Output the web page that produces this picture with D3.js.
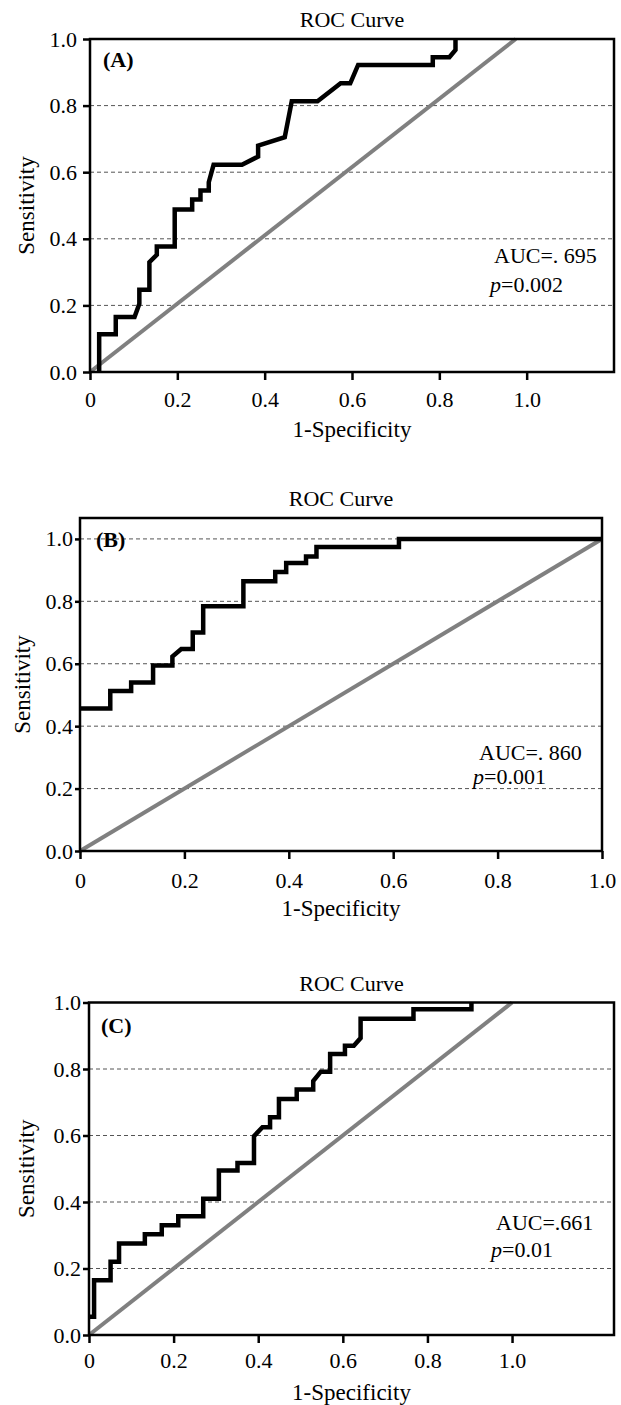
<!DOCTYPE html>
<html lang="en">
    <head>
        <meta charset="utf-8">
        <title>ROC Curves</title>
        <script src="https://d3js.org/d3.v7.min.js" charset="utf-8"></script>
    </head>
    <style>
        body { margin: 0; background: #fff; }
        text { font-family: "Liberation Serif", "Times New Roman", serif; fill: #000; }
        .grid line { stroke: #555; stroke-width: 1; stroke-dasharray: 4,3; }
        .frame { fill: none; stroke: #000; stroke-width: 2.5; }
        .tick line { stroke: #000; stroke-width: 2.5; }
        .roc { fill: none; stroke: #000; stroke-width: 4.5; stroke-linejoin: miter; }
        .ref { fill: none; stroke: #808080; stroke-width: 4; }
    </style>
    <body>
        <script>
            // values: [1-specificity, sensitivity]
            var rocA = [[0.021,0],[0.021,0.113],[0.059,0.113],[0.059,0.165],[0.102,0.165],[0.113,0.205],
                [0.113,0.247],[0.136,0.247],[0.136,0.33],[0.153,0.352],[0.153,0.377],[0.194,0.377],
                [0.194,0.488],[0.234,0.488],[0.234,0.518],[0.253,0.518],[0.253,0.545],[0.272,0.545],
                [0.272,0.57],[0.283,0.622],[0.348,0.622],[0.385,0.647],[0.385,0.68],[0.446,0.705],
                [0.462,0.813],[0.521,0.813],[0.574,0.867],[0.596,0.867],[0.614,0.922],[0.785,0.922],
                [0.785,0.945],[0.823,0.945],[0.837,0.967],[0.837,1.0]];
            var rocB = [[0,0.457],[0.058,0.457],[0.058,0.513],[0.098,0.513],[0.098,0.54],[0.14,0.54],
                [0.14,0.594],[0.177,0.594],[0.177,0.623],[0.194,0.647],[0.216,0.647],[0.216,0.70],
                [0.236,0.70],[0.236,0.784],[0.313,0.784],[0.313,0.864],[0.374,0.864],[0.374,0.894],
                [0.395,0.894],[0.395,0.923],[0.433,0.923],[0.433,0.944],[0.453,0.944],[0.453,0.974],
                [0.611,0.974],[0.611,1.0],[1.0,1.0]];
            var rocC = [[0,0.055],[0.012,0.055],[0.012,0.165],[0.051,0.165],[0.051,0.22],[0.071,0.22],
                [0.071,0.275],[0.132,0.275],[0.132,0.303],[0.172,0.303],[0.172,0.33],[0.211,0.33],
                [0.211,0.357],[0.27,0.357],[0.27,0.41],[0.307,0.41],[0.307,0.495],[0.351,0.495],
                [0.351,0.517],[0.39,0.517],[0.39,0.598],[0.41,0.625],[0.428,0.625],[0.428,0.655],
                [0.449,0.655],[0.449,0.71],[0.491,0.71],[0.491,0.738],[0.53,0.738],[0.53,0.764],
                [0.548,0.792],[0.57,0.792],[0.57,0.845],[0.605,0.845],[0.605,0.87],[0.626,0.87],
                [0.642,0.893],[0.642,0.951],[0.767,0.951],[0.767,0.98],[0.904,0.98],[0.904,1.0]];

            // reference (chance) lines
            var refA = [[0,0],[0.975,1]];
            var refB = [[0,0],[1,1]];
            var refC = [[0,0],[1,1]];

            var panelLabels = ["(A)", "(B)", "(C)"];
            var aucLabels = ["AUC=. 695", "AUC=. 860", "AUC=.661"];
            var pValues = ["0.002", "0.001", "0.01"];
            var xTicks = [0, 0.2, 0.4, 0.6, 0.8, 1.0];
            var yTicks = [0, 0.2, 0.4, 0.6, 0.8, 1.0];
            var gridA = [0.2, 0.4, 0.6, 0.8];
            var gridB = [0.2, 0.4, 0.6, 0.8, 1.0];
            var gridC = [0.2, 0.4, 0.6, 0.8];

            var svg = d3.select("body").append("svg")
                .attr("width", 621)
                .attr("height", 1405);

            var panels = [
                {roc: rocA, ref: refA, grid: gridA, xMax: 1.2, yMax: 1.0,
                 left: 90, right: 614, top: 39, bottom: 372,
                 yTick: 7, yPad: 6, xPad: 11, auc: [494, 263], p: [490, 292], lab: [103, 67], ylabX: 34},
                {roc: rocB, ref: refB, grid: gridB, xMax: 1.0, yMax: 1.067,
                 left: 80, right: 602, top: 518, bottom: 851,
                 yTick: 5, yPad: 2, xPad: 13, auc: [479, 760], p: [473, 784], lab: [96, 547], ylabX: 30},
                {roc: rocC, ref: refC, grid: gridC, xMax: 1.241, yMax: 1.0,
                 left: 89, right: 614, top: 1002.5, bottom: 1335,
                 yTick: 6, yPad: 2, xPad: 9, auc: [496, 1230], p: [491, 1257], lab: [101, 1033], ylabX: 34}
            ];

            panels.forEach(function(cfg, i) {
                var x = d3.scaleLinear().domain([0, cfg.xMax]).range([cfg.left, cfg.right]);
                var y = d3.scaleLinear().domain([0, cfg.yMax]).range([cfg.bottom, cfg.top]);
                var g = svg.append("g");

                g.append("text")
                    .attr("x", (cfg.left + cfg.right) / 2)
                    .attr("y", cfg.top - 12)
                    .attr("text-anchor", "middle")
                    .style("font-size", "22px")
                    .text("ROC Curve");

                g.append("g")
                    .attr("class", "grid")
                  .selectAll("line")
                    .data(cfg.grid)
                    .enter().append("line")
                    .attr("x1", cfg.left)
                    .attr("x2", cfg.right)
                    .attr("y1", function(d) { return y(d); })
                    .attr("y2", function(d) { return y(d); });

                var line = d3.line()
                    .x(function(d) { return x(d[0]); })
                    .y(function(d) { return y(d[1]); });

                g.append("path").datum(cfg.ref).attr("class", "ref").attr("d", line);
                g.append("path").datum(cfg.roc).attr("class", "roc").attr("d", line);

                g.append("rect")
                    .attr("class", "frame")
                    .attr("x", cfg.left)
                    .attr("y", cfg.top)
                    .attr("width", cfg.right - cfg.left)
                    .attr("height", cfg.bottom - cfg.top);

                var xAxis = g.append("g")
                    .attr("transform", "translate(0," + cfg.bottom + ")")
                    .call(d3.axisBottom(x)
                        .tickValues(xTicks)
                        .tickSize(8)
                        .tickPadding(cfg.xPad)
                        .tickFormat(function(d) { return d === 0 ? "0" : d3.format(".1f")(d); }));
                xAxis.select(".domain").remove();
                xAxis.selectAll("text").style("font-size", "22px").attr("font-family", null);

                var yAxis = g.append("g")
                    .attr("transform", "translate(" + cfg.left + ",0)")
                    .call(d3.axisLeft(y)
                        .tickValues(yTicks)
                        .tickSize(cfg.yTick)
                        .tickPadding(cfg.yPad)
                        .tickFormat(d3.format(".1f")));
                yAxis.select(".domain").remove();
                yAxis.selectAll("text").style("font-size", "22px").attr("font-family", null);

                g.append("text")
                    .attr("transform", "translate(" + cfg.ylabX + "," + (cfg.top + cfg.bottom) / 2 + ") rotate(-90)")
                    .attr("text-anchor", "middle")
                    .style("font-size", "23px")
                    .text("Sensitivity");

                g.append("text")
                    .attr("x", (cfg.left + cfg.right) / 2)
                    .attr("y", cfg.bottom + 65)
                    .attr("text-anchor", "middle")
                    .style("font-size", "23px")
                    .text("1-Specificity");

                g.append("text")
                    .attr("x", cfg.lab[0])
                    .attr("y", cfg.lab[1])
                    .style("font-size", "22px")
                    .style("font-weight", "bold")
                    .text(panelLabels[i]);

                g.append("text")
                    .attr("x", cfg.auc[0])
                    .attr("y", cfg.auc[1])
                    .style("font-size", "22px")
                    .text(aucLabels[i]);

                var pt = g.append("text")
                    .attr("x", cfg.p[0])
                    .attr("y", cfg.p[1])
                    .style("font-size", "22px");
                pt.append("tspan").style("font-style", "italic").text("p");
                pt.append("tspan").text("=" + pValues[i]);
            });
        </script>
    </body>
</html>
